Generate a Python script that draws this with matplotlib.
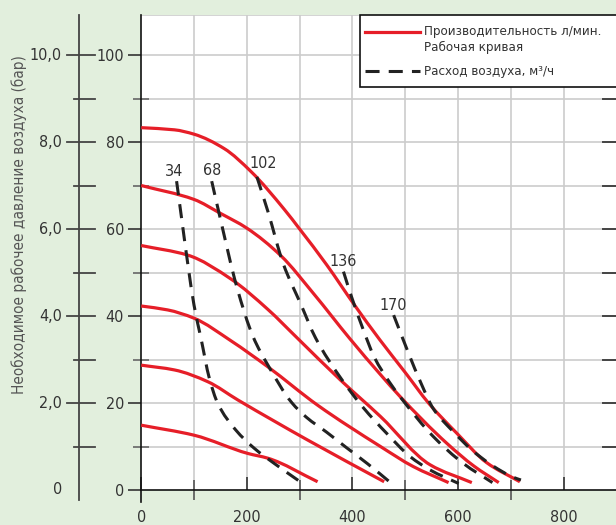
import numpy as np
import matplotlib
matplotlib.use("Agg")
import matplotlib.pyplot as plt
from matplotlib.path import Path
from matplotlib.patches import PathPatch, Rectangle
from matplotlib.lines import Line2D

plt.rcParams['font.family'] = ['DejaVu Sans']
plt.rcParams['font.stretch'] = 'condensed'

# ---- performance curves (flow, l/min -> head) ----
perf1_x = [0, 63, 100, 157, 208, 271, 300, 351, 404, 452, 500, 544, 598, 654, 717]
perf1_y = [83.3, 82.8, 81.8, 78.5, 73.2, 64.5, 60.0, 51.8, 42.5, 34.5, 27.0, 20.0, 13.0, 6.3, 1.9]
perf2_x = [0, 100, 150, 200, 265, 326, 395, 454, 490, 579, 630, 677]
perf2_y = [70.0, 66.8, 63.6, 60.2, 53.8, 45.2, 34.8, 26.4, 21.5, 10.7, 5.5, 1.7]
perf3_x = [0, 88, 170, 240, 295, 378, 453, 547, 626]
perf3_y = [56.2, 54.0, 48.5, 41.5, 35.0, 25.2, 16.9, 5.8, 1.7]
perf4_x = [0, 50, 100, 170, 240, 334, 453, 515, 582]
perf4_y = [42.3, 41.4, 39.5, 34.3, 28.3, 19.5, 10.0, 5.4, 1.7]
perf5_x = [0, 63, 126, 183, 315, 460]
perf5_y = [28.7, 27.6, 24.9, 20.7, 11.5, 1.9]
perf6_x = [0, 100, 202, 240, 334]
perf6_y = [14.9, 12.6, 8.4, 7.3, 1.9]

# ---- air consumption curves (m3/h) ----
air_labels = ["34", "68", "102", "136", "170"]
air34_x = [67, 77, 89, 100, 113, 129, 145, 179, 214, 252, 301]
air34_y = [71.0, 62.0, 51.3, 42.5, 35.0, 25.7, 19.9, 13.8, 9.6, 6.1, 1.9]
air68_x = [133.5, 149, 181, 212, 240, 285, 313, 351, 388, 429, 474]
air68_y = [71.0, 62.8, 46.7, 35.2, 28.7, 20.1, 16.7, 13.3, 9.8, 6.0, 1.5]
air102_x = [219, 240, 269, 303, 330, 378, 420, 465, 509, 547, 601]
air102_y = [72.0, 64.0, 52.0, 42.5, 35.0, 25.7, 19.0, 13.0, 7.7, 4.6, 1.5]
air136_x = [383, 398, 420, 441.5, 470, 493, 553, 610, 665]
air136_y = [50.2, 44.5, 37.0, 30.5, 24.8, 21.0, 12.3, 6.1, 1.7]
air170_x = [478, 506, 530, 553, 591, 626, 664, 705, 719]
air170_y = [40.2, 31.5, 24.5, 18.7, 13.4, 9.2, 5.7, 2.9, 2.3]

x_ticks = [0, 200, 400, 600, 800]
y_ticks = [0, 20, 40, 60, 80, 100]
bar_ticks = ["0", "2,0", "4,0", "6,0", "8,0", "10,0"]

legend_perf = ["Производительность л/мин.", "Рабочая кривая"]
legend_air = "Расход воздуха, м³/ч"
y_title = "Необходимое рабочее давление воздуха (бар)"

RED = "#e61e28"
DARK = "#222222"
TXT = "#333333"
BG = "#e2efdd"
GRID = "#cccccc"
FS = 11.5
PT = 0.72  # points per pixel at 100 dpi


def smooth_path(xs, ys):
    """Monotone cubic (Fritsch-Carlson) curve through the points as Bezier segments."""
    x = np.asarray(xs, float)
    y = np.asarray(ys, float)
    h = np.diff(x)
    d = np.diff(y) / h
    m = np.zeros_like(y)
    m[0], m[-1] = d[0], d[-1]
    for i in range(1, len(x) - 1):
        if d[i - 1] * d[i] <= 0:
            m[i] = 0.0
        else:
            w1 = 2 * h[i] + h[i - 1]
            w2 = h[i] + 2 * h[i - 1]
            m[i] = (w1 + w2) / (w1 / d[i - 1] + w2 / d[i])
    verts = [(x[0], y[0])]
    codes = [Path.MOVETO]
    for i in range(len(x) - 1):
        verts += [(x[i] + h[i] / 3, y[i] + m[i] * h[i] / 3),
                  (x[i + 1] - h[i] / 3, y[i + 1] - m[i + 1] * h[i] / 3),
                  (x[i + 1], y[i + 1])]
        codes += [Path.CURVE4] * 3
    return Path(verts, codes)


W, H = 616, 525
fig = plt.figure(figsize=(W / 100, H / 100), dpi=100, facecolor=BG)
ax_l, ax_r, ax_t, ax_b = 141.2, 616.0, 15.0, 490.0
ax = fig.add_axes([ax_l / W, 1 - ax_b / H, (ax_r - ax_l) / W, (ax_b - ax_t) / H])
ax.set_facecolor("white")
ax.set_xlim(0, 899)
ax.set_ylim(0, 109.2)


def fx(px):
    return (px - ax_l) / (ax_r - ax_l)


def fy(py):
    return (ax_b - py) / (ax_b - ax_t)


# grid
for xv in np.arange(100, 900, 100):
    ax.axvline(xv, color=GRID, lw=1.2, zorder=0)
for yv in np.arange(10, 109, 10):
    ax.axhline(yv, color=GRID, lw=1.2, zorder=0)

# curves
for xs, ys in [(perf1_x, perf1_y), (perf2_x, perf2_y), (perf3_x, perf3_y),
               (perf4_x, perf4_y), (perf5_x, perf5_y), (perf6_x, perf6_y)]:
    ax.add_patch(PathPatch(smooth_path(xs, ys), fill=False, edgecolor=RED,
                           lw=2.3, capstyle="butt", zorder=3))
air_sets = [(air34_x, air34_y), (air68_x, air68_y), (air102_x, air102_y),
            (air136_x, air136_y), (air170_x, air170_y)]
label_shift = [(-3, 10), (0, 11), (6, 13), (0, 10), (0, 10)]
for (xs, ys), lab, sh in zip(air_sets, air_labels, label_shift):
    ax.add_patch(PathPatch(smooth_path(xs, ys), fill=False, edgecolor=DARK,
                           lw=2.2, linestyle=(0, (4.6, 3.0)), capstyle="butt", zorder=4))
    ax.annotate(lab, (xs[0], ys[0]), xytext=sh, textcoords="offset pixels",
                ha="center", va="center", fontsize=FS, color=TXT, zorder=5)

# spines and ticks
for s in ["top", "right"]:
    ax.spines[s].set_visible(False)
for s in ["left", "bottom"]:
    ax.spines[s].set_color("#111111")
    ax.spines[s].set_linewidth(1.2)
ax.set_xticks(x_ticks)
ax.set_xticklabels([str(v) for v in x_ticks])
ax.set_xticks(np.arange(100, 900, 200), minor=True)
ax.set_yticks(y_ticks)
ax.set_yticklabels([str(v) for v in y_ticks])
ax.set_yticks(np.arange(10, 101, 20), minor=True)
ax.tick_params(axis="x", which="major", direction="in", length=13 * PT, width=1.2,
               color="#333333", pad=14.5, labelsize=FS, labelcolor=TXT)
ax.tick_params(axis="x", which="minor", direction="inout", length=20 * PT, width=1.2,
               color="#555555")
ax.tick_params(axis="y", which="major", direction="out", length=13 * PT, width=1.2,
               color="#333333", pad=3, labelsize=FS, labelcolor=TXT)
ax.tick_params(axis="y", which="minor", direction="inout", length=16 * PT, width=1.2,
               color="#666666")
ax.axhline(109.2, color=GRID, lw=1.2)
tr = ax.get_yaxis_transform()
for yv in np.arange(10, 101, 10):
    ax.plot([fx(603), 1], [yv, yv], transform=tr, color="#444444", lw=1.4, zorder=2)
# short outward tick under the origin
ax.add_line(Line2D([0, 0], [0, -12 / 4.35], color="#111111", lw=1.2, clip_on=False))

# pressure scale (bar) on the far left
ax.add_line(Line2D([fx(79), fx(79)], [-2.3, 109.2], transform=tr, color="#444444",
                   lw=1.3, clip_on=False))
for yv, lab in zip(y_ticks, bar_ticks):
    if yv > 0:
        ax.add_line(Line2D([fx(67), fx(95)], [yv, yv], transform=tr, color="#444444",
                           lw=1.3, clip_on=False))
    ax.text(fx(62), yv, lab, transform=tr, ha="right", va="center", fontsize=FS,
            color=TXT, clip_on=False)
for yv in np.arange(10, 101, 20):
    ax.add_line(Line2D([fx(74), fx(95)], [yv, yv], transform=tr, color="#444444",
                       lw=1.3, clip_on=False))

fig.text(19 / W, 1 - 225 / H, y_title, rotation=90, ha="center", va="center",
         fontsize=11, color="#555555")

# legend box
ax.add_patch(Rectangle((fx(360), fy(87)), 1.2, fy(15) - fy(87), transform=ax.transAxes,
                       facecolor="white", edgecolor="#111111", lw=1.2, zorder=6,
                       clip_on=False))
ax.add_line(Line2D([fx(365), fx(420)], [fy(32), fy(32)], transform=ax.transAxes,
                   color=RED, lw=2.3, zorder=7))
ax.add_line(Line2D([fx(365), fx(420)], [fy(71), fy(71)], transform=ax.transAxes,
                   color=DARK, lw=2.2, linestyle=(0, (4.6, 3.0)), zorder=7))
for py, txt in [(32, legend_perf[0]), (47, legend_perf[1]), (71, legend_air)]:
    ax.text(fx(424), fy(py), txt, transform=ax.transAxes, ha="left", va="center",
            fontsize=9.5, color=TXT, zorder=7)

fig.savefig("out.png", dpi=100, facecolor=BG)
